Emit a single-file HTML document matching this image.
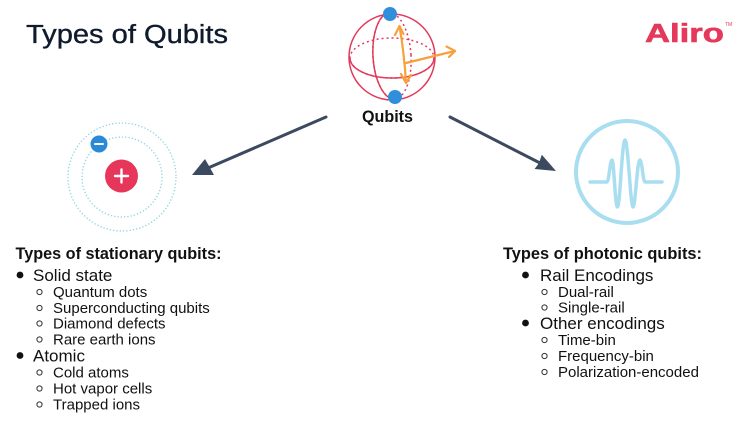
<!DOCTYPE html>
<html>
<head>
<meta charset="utf-8">
<style>
  html,body{margin:0;padding:0;background:#fff;}
  body{width:750px;height:421px;overflow:hidden;}
  svg{display:block;}
  .t{font-family:"Liberation Sans",Arial,sans-serif;fill:#111;}
</style>
</head>
<body>
<svg width="750" height="421" viewBox="0 0 750 421" xmlns="http://www.w3.org/2000/svg">
  <!-- Title -->
  <text x="26" y="43" font-family="Liberation Sans, Arial, sans-serif" font-size="25.5" fill="#0f1b2d" stroke="#0f1b2d" stroke-width="0.35" textLength="202" lengthAdjust="spacingAndGlyphs">Types of Qubits</text>

  <!-- Aliro logo -->
  <text x="645" y="42" font-family="Liberation Sans, Arial, sans-serif" font-weight="bold" font-size="25.5" fill="#e5395b" stroke="#e5395b" stroke-width="0.6" textLength="79" lengthAdjust="spacingAndGlyphs">Aliro</text>
  <text x="725" y="26" font-family="Liberation Sans, Arial, sans-serif" font-size="5" fill="#e5395b">TM</text>

  <!-- Bloch sphere -->
  <g fill="none" stroke="#e23a5c" stroke-width="1.5">
    <circle cx="392" cy="57" r="43"/>
    <ellipse cx="392" cy="58" rx="42" ry="20" stroke-dasharray="2 3"/>
    <path d="M350 58 A42 20 0 0 0 434 58"/>
    <g transform="rotate(-3.5 392 56)">
      <ellipse cx="392" cy="56" rx="19" ry="43" stroke-dasharray="2 3"/>
      <path d="M392 13 A19 43 0 0 0 392 99"/>
    </g>
  </g>
  <g fill="none" stroke="#f8a03c" stroke-width="2.2" stroke-linecap="round" stroke-linejoin="round">
    <path d="M399.5 26 Q404 52 406 82"/>
    <path d="M395 35 L399.5 26 L403.5 34"/>
    <path d="M401 74 L406 83 L411 75"/>
    <path d="M406 63 Q430 57 455 51"/>
    <path d="M446.5 46.5 L455 51 L449 57"/>
  </g>
  <circle cx="390" cy="14" r="7" fill="#2f8fdc"/>
  <circle cx="395" cy="97" r="7" fill="#2f8fdc"/>

  <text x="362" y="122" font-family="Liberation Sans, Arial, sans-serif" font-weight="bold" font-size="16.3" fill="#111" textLength="51" lengthAdjust="spacingAndGlyphs">Qubits</text>

  <!-- Arrows -->
  <g stroke="#3c4a5f" stroke-width="3" stroke-linecap="round">
    <line x1="326" y1="117" x2="208" y2="168"/>
    <line x1="450" y1="117" x2="540" y2="163"/>
  </g>
  <polygon points="192,175 214,175 209,166 205,159" fill="#3c4a5f"/>
  <polygon points="556,171 541.8,154.8 539,163 534.6,169" fill="#3c4a5f"/>

  <!-- Atom -->
  <g fill="none" stroke="#8fd3e0" stroke-width="1.3" stroke-dasharray="1.3 2">
    <circle cx="122" cy="177" r="54"/>
    <circle cx="122" cy="177" r="40"/>
  </g>
  <circle cx="121.5" cy="176" r="16.5" fill="#e6365a"/>
  <path d="M115 176 H128 M121.5 169.5 V182.5" stroke="#fff" stroke-width="2.4" stroke-linecap="round"/>
  <circle cx="99" cy="144" r="8.5" fill="#2b8ad8"/>
  <path d="M95 144 H103" stroke="#fff" stroke-width="2" stroke-linecap="round"/>

  <!-- Photon -->
  <circle cx="627" cy="172" r="51" fill="none" stroke="#a9def0" stroke-width="4"/>
  <path d="M590 182 H607 C609 182 610 160 612 160 C614 160 615 207 617.5 207 C620 207 622 140 625 140 C628 140 630.5 207 633 207 C635.5 207 637 160 640 160 C642 160 643 182 645 182 H662" fill="none" stroke="#a9def0" stroke-width="3.5" stroke-linecap="round" stroke-linejoin="round"/>

  <!-- Left list -->
  <g class="t">
    <text x="15.5" y="259" font-weight="bold" font-size="16.3" textLength="206" lengthAdjust="spacingAndGlyphs">Types of stationary qubits:</text>
    <text x="33" y="281" font-size="17">Solid state</text>
    <text x="53" y="297" font-size="15">Quantum dots</text>
    <text x="53" y="313" font-size="15">Superconducting qubits</text>
    <text x="53" y="328.5" font-size="15">Diamond defects</text>
    <text x="53" y="344.5" font-size="15">Rare earth ions</text>
    <text x="33" y="361.5" font-size="17">Atomic</text>
    <text x="53" y="377.5" font-size="15">Cold atoms</text>
    <text x="53" y="393.5" font-size="15">Hot vapor cells</text>
    <text x="53" y="409.5" font-size="15">Trapped ions</text>
  </g>
  <g fill="#111">
    <circle cx="20" cy="275" r="3.4"/>
    <circle cx="20" cy="355.5" r="3.4"/>
  </g>
  <g fill="none" stroke="#333" stroke-width="1">
    <circle cx="39.5" cy="292" r="2.6"/>
    <circle cx="39.5" cy="308" r="2.6"/>
    <circle cx="39.5" cy="323.5" r="2.6"/>
    <circle cx="39.5" cy="339.5" r="2.6"/>
    <circle cx="39.5" cy="372.5" r="2.6"/>
    <circle cx="39.5" cy="388.5" r="2.6"/>
    <circle cx="39.5" cy="404.5" r="2.6"/>
  </g>

  <!-- Right list -->
  <g class="t">
    <text x="503" y="259" font-weight="bold" font-size="16.3" textLength="199" lengthAdjust="spacingAndGlyphs">Types of photonic qubits:</text>
    <text x="540" y="281" font-size="17">Rail Encodings</text>
    <text x="558" y="297" font-size="15">Dual-rail</text>
    <text x="558" y="312.5" font-size="15">Single-rail</text>
    <text x="540" y="329" font-size="17">Other encodings</text>
    <text x="558" y="345" font-size="15">Time-bin</text>
    <text x="558" y="361" font-size="15">Frequency-bin</text>
    <text x="558" y="377" font-size="15">Polarization-encoded</text>
  </g>
  <g fill="#111">
    <circle cx="525.5" cy="275" r="3.4"/>
    <circle cx="525.5" cy="323" r="3.4"/>
  </g>
  <g fill="none" stroke="#333" stroke-width="1">
    <circle cx="544.5" cy="292" r="2.6"/>
    <circle cx="544.5" cy="307.5" r="2.6"/>
    <circle cx="544.5" cy="340" r="2.6"/>
    <circle cx="544.5" cy="356" r="2.6"/>
    <circle cx="544.5" cy="372" r="2.6"/>
  </g>
</svg>
</body>
</html>
